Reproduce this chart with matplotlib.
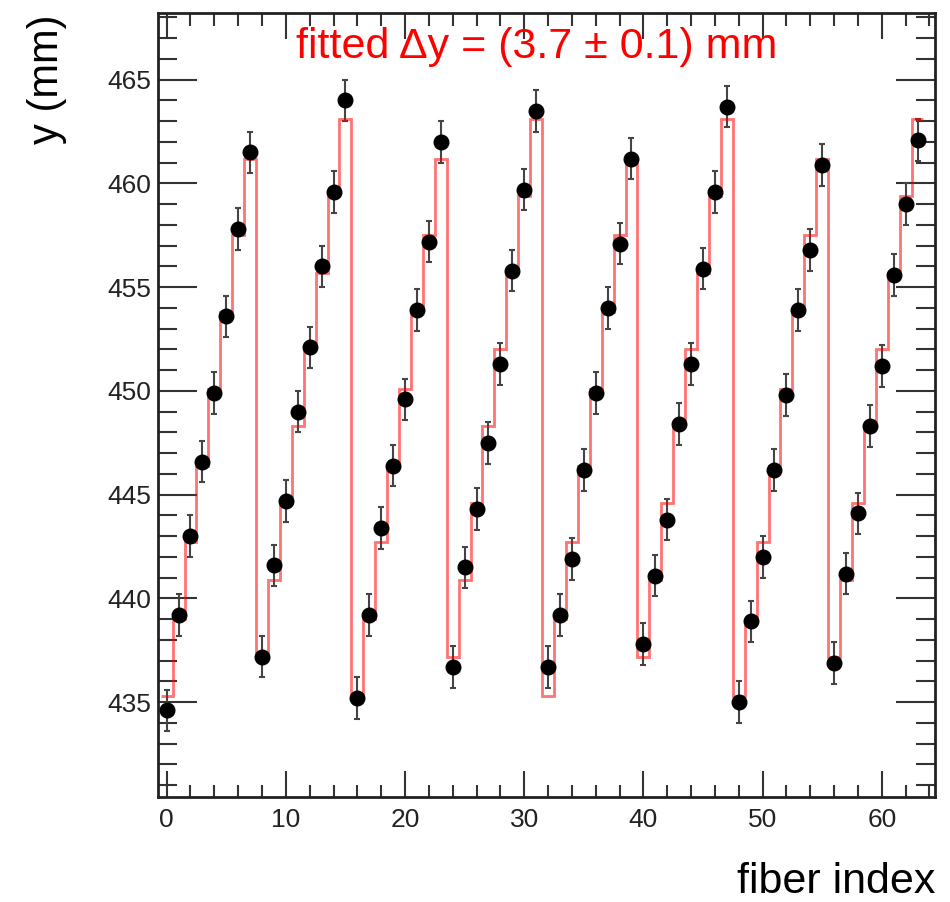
import numpy as np
import matplotlib
matplotlib.use("Agg")
import matplotlib.pyplot as plt
from matplotlib.ticker import MultipleLocator

plt.rcParams['font.family'] = ['Liberation Sans', 'DejaVu Sans']

# measured fiber positions (mm)
fiber = np.arange(64)
y_meas = [434.6, 439.2, 443.0, 446.6, 449.9, 453.6, 457.8, 461.5,
          437.2, 441.6, 444.7, 449.0, 452.1, 456.0, 459.6, 464.0,
          435.2, 439.2, 443.4, 446.4, 449.6, 453.9, 457.2, 462.0,
          436.7, 441.5, 444.3, 447.5, 451.3, 455.8, 459.7, 463.5,
          436.7, 439.2, 441.9, 446.2, 449.9, 454.0, 457.1, 461.2,
          437.8, 441.1, 443.8, 448.4, 451.3, 455.9, 459.6, 463.7,
          435.0, 438.9, 442.0, 446.2, 449.8, 453.9, 456.8, 460.9,
          436.9, 441.2, 444.1, 448.3, 451.2, 455.6, 459.0, 462.1]
y_err = [1.0] * 64

# fitted step model (mm)
y_fit = [435.3, 439.0, 442.7, 446.4, 450.1, 453.8, 457.5, 461.2,
         437.2, 440.9, 444.6, 448.3, 452.0, 455.7, 459.4, 463.1,
         435.3, 439.0, 442.7, 446.4, 450.1, 453.8, 457.5, 461.2,
         437.2, 440.9, 444.6, 448.3, 452.0, 455.7, 459.4, 463.1,
         435.3, 439.0, 442.7, 446.4, 450.1, 453.8, 457.5, 461.2,
         437.2, 440.9, 444.6, 448.3, 452.0, 455.7, 459.4, 463.1,
         435.3, 439.0, 442.7, 446.4, 450.1, 453.8, 457.5, 461.2,
         437.2, 440.9, 444.6, 448.3, 452.0, 455.7, 459.4, 463.1]

fig = plt.figure(figsize=(9.5, 9.02), dpi=100)
ax = fig.add_axes([0.166, 0.1164, 0.818, 0.8688])

edges = np.arange(-0.5, 64.0, 1.0)
ax.stairs(y_fit, edges, baseline=None, color='red', alpha=0.55, lw=2.0, zorder=3)

ax.errorbar(fiber, y_meas, yerr=y_err, fmt='none', ecolor='#444444',
            elinewidth=1.5, capsize=2.5, capthick=1.5, zorder=2)
ax.plot(fiber, y_meas, 'o', color='black', ms=10.5, zorder=4)

ax.set_xlim(-0.75, 64.45)
ax.set_ylim(430.43, 468.2)

ax.xaxis.set_major_locator(MultipleLocator(10))
ax.xaxis.set_minor_locator(MultipleLocator(2))
ax.yaxis.set_major_locator(MultipleLocator(5))
ax.yaxis.set_minor_locator(MultipleLocator(1))
ax.tick_params(axis='x', which='both', direction='in', top=True, labelsize=19, pad=8,
               colors='#333333', labelcolor='#222222')
ax.tick_params(axis='y', which='both', direction='in', right=True, labelsize=19, pad=5,
               colors='#333333', labelcolor='#222222')
ax.tick_params(axis='x', which='major', length=19, width=1.5)
ax.tick_params(axis='x', which='minor', length=9, width=1.5)
ax.tick_params(axis='y', which='major', length=28, width=1.5)
ax.tick_params(axis='y', which='minor', length=14, width=1.5)
for s in ax.spines.values():
    s.set_linewidth(2)
    s.set_color('#222222')

fig.text(537 / 950, 1 - 47 / 902, 'fitted \u0394y = (3.7 \u00b1 0.1) mm',
         color='red', fontsize=31, ha='center', va='center')

fig.text(935 / 950, 1 - 882 / 902, 'fiber index', fontsize=31, ha='right', va='center')
fig.text(47 / 950, 1 - 14 / 902, 'y (mm)', fontsize=30, rotation=90, ha='center', va='top')

plt.savefig('out.png', dpi=100)
